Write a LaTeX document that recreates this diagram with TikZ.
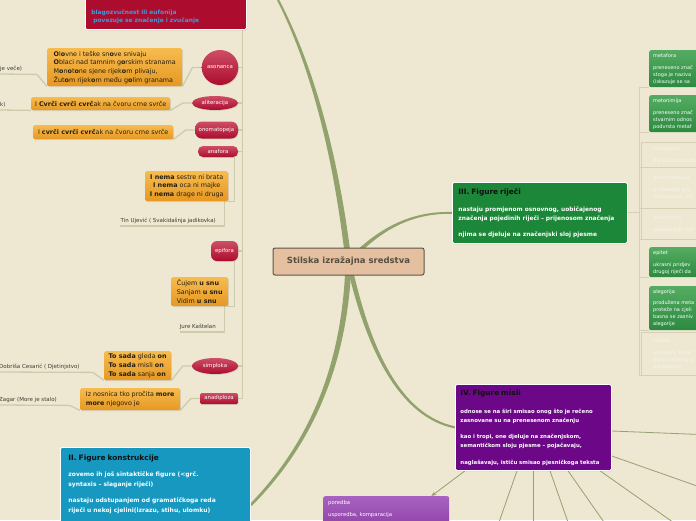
\documentclass[tikz,border=0pt]{standalone}
\usepackage{fontspec}
\setmainfont{DejaVu Sans}
\usepackage{xcolor}
\usepackage{tikz}
\usetikzlibrary{shapes.geometric, arrows.meta, positioning, calc, backgrounds, shadows}
\definecolor{mapbg}{RGB}{238,232,210}
\definecolor{branchgreen}{RGB}{145,162,108}
\definecolor{spokegreen}{RGB}{150,160,112}
\definecolor{linkgray}{RGB}{204,204,172}
\definecolor{leafline}{RGB}{214,208,182}
\definecolor{rootfill}{RGB}{228,191,160}
\definecolor{rootdraw}{RGB}{95,85,70}
\definecolor{roottext}{RGB}{85,78,66}
\definecolor{soundred}{RGB}{172,12,46}
\definecolor{soundtop}{RGB}{206,78,102}
\definecolor{eufblue}{RGB}{62,156,220}
\definecolor{versetop}{RGB}{247,187,78}
\definecolor{versebot}{RGB}{230,152,34}
\definecolor{versetext}{RGB}{35,30,20}
\definecolor{credittext}{RGB}{60,60,50}
\definecolor{figblue}{RGB}{22,152,192}
\definecolor{wordgreen}{RGB}{28,135,56}
\definecolor{thoughtpurple}{RGB}{108,8,136}
\definecolor{leafgreentop}{RGB}{84,172,98}
\definecolor{leafgreen}{RGB}{44,138,64}
\definecolor{leafpurpletop}{RGB}{168,98,192}
\definecolor{leafpurple}{RGB}{134,54,160}
\definecolor{ghosttext}{RGB}{247,244,234}
\definecolor{titletext}{RGB}{15,15,15}
\newcommand{\figtitle}[1]{{\fontsize{7.4}{9}\selectfont\color{titletext}#1}}

\begin{document}
\begin{tikzpicture}[x=1pt, y=-1pt,
  softshadow/.style={drop shadow={opacity=0.22, shadow xshift=0.7pt, shadow yshift=-0.9pt}},
  branch/.style={fill=branchgreen},
  link/.style={draw=linkgray, line width=1.3pt, line join=round},
  leaflink/.style={draw=leafline, line width=0.9pt},
  spoke/.style={draw=spokegreen, line width=0.8pt},
  rootbox/.style={fill=rootfill, draw=rootdraw, line width=1pt, rounded corners=2pt, minimum width=151pt, minimum height=27pt, text=roottext, font=\bfseries\fontsize{8.5}{10}\selectfont},
  soundnode/.style={top color=soundtop, bottom color=soundred, text=white, inner sep=0pt, font=\fontsize{5.4}{6}\selectfont, softshadow},
  versebox/.style={anchor=north west, top color=versetop, bottom color=versebot, rounded corners=1.5pt, align=left, inner sep=0pt, text=versetext, font=\fontsize{6.4}{8.7}\selectfont, softshadow},
  credit/.style={text=credittext, inner xsep=0pt, inner ysep=2.5pt, font=\fontsize{5.5}{6.5}\selectfont},
  bigbox/.style={anchor=north west, draw=white, line width=0.8pt, rounded corners=1.5pt, align=left, text=white, softshadow},
  leafbox/.style={anchor=north west, rounded corners=2pt, align=left, text width=70pt, inner xsep=4pt, inner ysep=0pt, text=white, font=\fontsize{5}{7}\selectfont},
  greenleaf/.style={leafbox, top color=leafgreentop, bottom color=leafgreen},
  ghostleaf/.style={anchor=north west, draw=leafline, line width=0.7pt, align=left, text width=70pt, inner xsep=12pt, inner ysep=0pt, text=ghosttext, font=\fontsize{5}{7}\selectfont}
]
  % Background
  \useasboundingbox (0,0) rectangle (696,520);
  \begin{scope}[on background layer]
    \fill[mapbg] (0,0) rectangle (696,520);
  \end{scope}

  % Central topic
  \node[rootbox] (root) at (348.5,261.5) {Stilska izražajna sredstva};

  % I. sound figures (left)
  \node[anchor=south west, fill=soundred, draw=white, line width=0.8pt, rounded corners=1.5pt, align=left, text width=149pt, inner xsep=6pt, inner ysep=6pt, text=eufblue, font=\bfseries\fontsize{5.9}{8}\selectfont, softshadow] (fisound) at (85,30) {\mbox{}\\[22pt]blagozvučnost ili eufonija\\\hspace*{2pt}povezuje se značenje i zvučanje};
  \coordinate (spine) at ([xshift=-4pt]fisound.south east);
  \coordinate (fisoundlink) at (276,-4);

  \node[soundnode, ellipse, minimum width=36pt, minimum height=35pt] (asonanca) at (220,67.5) {asonanca};
  \node[soundnode, ellipse, minimum width=46pt, minimum height=14pt] (aliteracija) at (215,103) {aliteracija};
  \node[soundnode, rounded corners=7pt, minimum width=43pt, minimum height=17pt] (onomatopeja) at (216.5,130) {onomatopeja};
  \node[soundnode, rounded corners=5pt, minimum width=40pt, minimum height=11pt] (anafora) at (218,151.5) {anafora};
  \node[soundnode, rounded corners=6pt, minimum width=27pt, minimum height=20pt] (epifora) at (224.5,251) {epifora};
  \node[soundnode, ellipse, minimum width=46pt, minimum height=16pt] (simploka) at (215,366) {simploka};
  \node[soundnode, rounded corners=1.5pt, minimum width=38pt, minimum height=11pt] (anadiploza) at (219,398.5) {anadiploza};

  % verses
  \node[versebox, minimum width=135pt, minimum height=38pt] (asonancaverse) at (47,48) {\textbf{O}l\textbf{o}vne i teške sn\textbf{o}ve snivaju\\\textbf{O}blaci nad tamnim g\textbf{o}rskim stranama\\M\textbf{o}n\textbf{o}t\textbf{o}ne sjene rijek\textbf{o}m plivaju,\\Žut\textbf{o}m rijek\textbf{o}m među g\textbf{o}lim granama};
  \node[versebox, minimum width=139pt, minimum height=13pt] (aliteracijaverse) at (31,97) {I \textbf{Cvrči cvrči cvrč}ak na čvoru crne svrče};
  \node[versebox, minimum width=140pt, minimum height=14pt] (onomatopejaverse) at (33,125) {I \textbf{cvrči cvrči cvrč}ak na čvoru crne svrče};
  \node[versebox, align=center, minimum width=83pt, minimum height=30pt] (anaforaverse) at (145,171) {\textbf{I nema} sestre ni brata\\\textbf{I nema} oca ni majke\\\textbf{I nema} drage ni druga};
  \node[versebox, minimum width=57pt, minimum height=29pt] (epiforaverse) at (171,277) {Čujem \textbf{u snu}\\Sanjam \textbf{u snu}\\Vidim \textbf{u snu}};
  \node[versebox, minimum width=67pt, minimum height=29pt] (simplokaverse) at (104,351) {\textbf{To sada} gleda \textbf{on}\\\textbf{To sada} misli \textbf{on}\\\textbf{To sada} sanja \textbf{on}};
  \node[versebox, minimum width=100pt, minimum height=22pt] (anadiplozaverse) at (80,388) {Iz nosnica tko pročita \textbf{more}\\\textbf{more} njegovo je};

  % authors
  \node[credit, anchor=south west] (matos) at (0,74) {je veče)};
  \node[credit, anchor=south west] (nazor) at (0,110) {k)};
  \node[credit, anchor=south east] (ujevic) at (216,226) {Tin Ujević ( Svakidašnja jadikovka)};
  \node[credit, anchor=south east] (kastelan) at (216,332) {Jure Kaštelan};
  \node[credit, anchor=south west] (cesaric) at (-1,372) {Dobriša Cesarić ( Djetinjstvo)};
  \node[credit, anchor=south west] (zagar) at (-1,405) {Zagar (More je stalo)};

  % II. Figure konstrukcije
  \node[bigbox, fill=figblue, text width=174pt, inner xsep=8pt, inner ysep=7pt, font=\bfseries\fontsize{6}{10}\selectfont] (constrfig) at (60,447) {\figtitle{II. Figure konstrukcije}\\[6pt]zovemo ih još sintaktičke figure (<grč.\\syntaxis – slaganje riječi)\\[6pt]nastaju odstupanjem od gramatičkoga reda\\riječi u nekoj cjelini(izrazu, stihu, ulomku)\\[14pt]\mbox{}};

  % III. Figure riječi
  \node[bigbox, fill=wordgreen, text width=163pt, inner xsep=6pt, minimum height=61pt, font=\bfseries\fontsize{5.9}{9}\selectfont] (wordfig) at (452,182) {\figtitle{III. Figure riječi}\\[8pt]nastaju promjenom osnovnog, uobičajenog\\značenja pojedinih riječi – prijenosom značenja\\[7pt]njima se djeluje na značenjski sloj pjesme};
  \coordinate (rspine) at (639,212);

  \node[greenleaf, minimum height=37pt] (metafora) at (649,50) {metafora\\[5pt]preneseno znač\\stoga je naziva\\(iskazuje se sa};
  \node[greenleaf, minimum height=37pt] (metonimija) at (649,95) {metonimija\\[5pt]preneseno znač\\stvarnim odnos\\podvrsta metaf};
  \node[ghostleaf, minimum height=25pt] (sinegdoha) at (641,142) {sinegdoha\\[5pt]dio se uzima um};
  \node[ghostleaf, minimum height=41pt] (personifikacija) at (641,167) {personifikacija\\[5pt]pridavanje ljud\\životinjama, bilj};
  \node[ghostleaf, minimum height=31pt] (eufemizam) at (641,208) {eufemizam\\[5pt]ublažavanje nek};
  \node[greenleaf, minimum height=30pt] (epitet) at (649,247) {epitet\\[5pt]ukrasni pridjev\\drugoj riječi da};
  \node[greenleaf, minimum height=44pt] (alegorija) at (649,286) {alegorija\\[4pt]produžena meta\\proteže na cjeli\\basna se zasniv\\alegorije};
  \node[ghostleaf, minimum height=43pt] (simbol) at (641,332) {simbol\\[5pt]odabrani, konkr\\bitno svojstvo p\\predstavlja};

  % IV. Figure misli
  \node[bigbox, fill=thoughtpurple, text width=146pt, inner xsep=5pt, minimum height=86pt, font=\bfseries\fontsize{5.4}{9}\selectfont] (thoughtfig) at (455,384) {\figtitle{IV. Figure misli}\\[9pt]odnose se na širi smisao onog što je rečeno\\zasnovane su na prenesenom značenju\\[7pt]kao i tropi, one djeluje na značenjskom,\\semantičkom sloju pjesme – pojačavaju,\\[8pt]naglašavaju, ističu smisao pjesničkoga teksta};
  \node[leafbox, top color=leafpurpletop, bottom color=leafpurple, text width=116pt, inner xsep=5pt, inner ysep=4.5pt, font=\fontsize{5.3}{7}\selectfont] (poredba) at (323,496) {poredba\\[5pt]usporedba, komparacija\\[10pt]\mbox{}};
  \coordinate (misliA) at (700,434.5);
  \coordinate (misliB) at (700,487);
  \coordinate (misliC) at (498,525);
  \coordinate (misliD) at (533,525);
  \coordinate (misliE) at (569,525);
  \coordinate (misliF) at (606,525);
  \coordinate (misliG) at (677,525);

  \begin{scope}[on background layer]
    % Main branches
    \fill[branch] ($(root.center)+(-3,0)$) .. controls (332.9,150) and (308.4,60) .. ($(fisoundlink)+(-1.1,0)$) -- ($(fisoundlink)+(1.1,0)$) .. controls (311.6,60) and (338.1,150) .. ($(root.center)+(3,0)$) -- cycle;
    \fill[branch] ($(root.center)+(-1.5,-1.4)$) .. controls (378.8,226.9) and (412,210.9) .. ($(wordfig.west)+(0,-0.9)$) -- ($(wordfig.west)+(0,0.9)$) .. controls (412,213.1) and (381.2,229.1) .. ($(root.center)+(1.5,1.4)$) -- cycle;
    \fill[branch] ($(root.center)+(-2.5,0)$) .. controls (365.85,350.5) and (399.7,417.4) .. ($(thoughtfig.west)+(-0.2,1)$) -- ($(thoughtfig.west)+(0.2,-1)$) .. controls (400.3,414.6) and (370.15,349.5) .. ($(root.center)+(2.5,0)$) -- cycle;
    \fill[branch] ($(root.center)+(-3,0)$) .. controls (342.4,380) and (298.7,453.7) .. ($(constrfig.north east)+(-0.9,57.1)$) -- ($(constrfig.north east)+(0.9,58.9)$) .. controls (301.3,456.3) and (347.6,380) .. ($(root.center)+(3,0)$) -- cycle;

    % Sound figure links
    \draw[link] (spine) |- (anadiploza.east);
    \draw[link] (asonanca.east) -- (asonanca.east -| spine);
    \draw[link] (aliteracija.east) -- (aliteracija.east -| spine);
    \draw[link] (onomatopeja.east) -- (onomatopeja.east -| spine);
    \draw[link] (anafora.east) -- (anafora.east -| spine);
    \draw[link] (epifora.east) -- (epifora.east -| spine);
    \draw[link] (simploka.east) -- (simploka.east -| spine);
    \draw[link] (asonanca.west) -- ++(-9,0) -- (asonancaverse.south east);
    \draw[link] (aliteracija.west) -- ++(-9,0) -- (aliteracijaverse.south east);
    \draw[link] (onomatopeja.west) -- ++(-9,0) -- (onomatopejaverse.south east);
    \draw[link] ([xshift=-4pt]anafora.south east) |- (anaforaverse.south east);
    \draw[link] ([xshift=-4pt]epifora.south east) |- (epiforaverse.south east);
    \draw[link] (simploka.west) -- ++(-9,0) -- (simplokaverse.south east);
    \draw[link] (anadiploza.west) -- ++(-9,0) -- (anadiplozaverse.south east);
    \draw[link] (asonancaverse.south west) -- ++(-10,-12) -- (matos.south west);
    \draw[link] (aliteracijaverse.south west) -- (nazor.south west);
    \draw[link] ([xshift=-4pt]anaforaverse.south east) |- (ujevic.south east) -- (ujevic.south west);
    \draw[link] ([xshift=-4pt]epiforaverse.south east) |- (kastelan.south east) -- (kastelan.south west);
    \draw[link] (simplokaverse.south west) -- ++(-11,-8) -- (cesaric.south west);
    \draw[link] (anadiplozaverse.south west) -- ++(-10,-5) -- (zagar.south west);

    % Word figure links
    \draw[leaflink] (wordfig.east) -- (wordfig.east -| rspine);
    \draw[leaflink] (metafora.south west) -| (rspine |- simbol.south west) -- (simbol.south west);
    \draw[leaflink] (metonimija.south west) -- (metonimija.south west -| rspine);
    \draw[leaflink] (sinegdoha.south west) -- (sinegdoha.south west -| rspine);
    \draw[leaflink] (personifikacija.south west) -- (personifikacija.south west -| rspine);
    \draw[leaflink] (eufemizam.south west) -- (eufemizam.south west -| rspine);
    \draw[leaflink] (epitet.south west) -- (epitet.south west -| rspine);
    \draw[leaflink] (alegorija.south west) -- (alegorija.south west -| rspine);

    % Thought figure spokes
    \draw[spoke] ($(thoughtfig.north east)+(0,47)$) -- (misliA);
    \draw[spoke] ($(thoughtfig.north east)+(0,72)$) -- (misliB);
    \draw[spoke] ($(thoughtfig.south west)+(62,0)$) -- (misliC);
    \draw[spoke] ($(thoughtfig.south west)+(78,0)$) -- (misliD);
    \draw[spoke] ($(thoughtfig.south west)+(95,0)$) -- (misliE);
    \draw[spoke] ($(thoughtfig.south west)+(113,0)$) -- (misliF);
    \draw[spoke] ($(thoughtfig.south west)+(145,0)$) -- (misliG);
    \draw[spoke, -{Stealth[length=5pt, width=4pt]}] ($(thoughtfig.south west)+(10,0)$) -- ($(poredba.north east)+(-18,0)$);
  \end{scope}
\end{tikzpicture}
\end{document}
